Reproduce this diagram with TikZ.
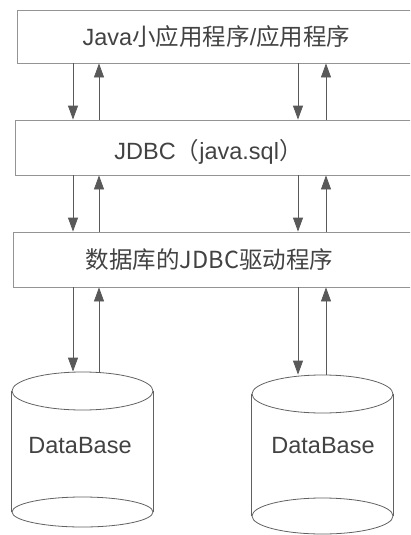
\documentclass[tikz,border=0pt]{standalone}
\usepackage{fontspec}
\setmainfont{Liberation Sans}
\newfontfamily\cjk{Noto Sans CJK SC}
\usetikzlibrary{arrows.meta,shapes.geometric}

\begin{document}
\begin{tikzpicture}[x=1pt,y=-1pt]
\tikzset{
  every node/.style={font=\fontsize{23.5}{26}\selectfont, text=black!74},
  layer/.style={draw=black!42, line width=0.8pt, inner sep=0pt, minimum height=55pt},
  dbend/.style={ellipse, draw=black!62, line width=0.8pt, inner sep=0pt, minimum width=141pt},
  flow/.style={draw=black!65, line width=0.8pt, -{Triangle[length=14pt,width=10pt]}}
}

\clip (0,0) rectangle (410,535);

\coordinate (LeftDown) at (73,0);
\coordinate (LeftUp) at (99,0);
\coordinate (RightDown) at (298,0);
\coordinate (RightUp) at (326,0);

\node[layer, minimum width=397pt, minimum height=53pt] (App) at (215.5,36.5) {};
\node[layer, minimum width=399pt] (Jdbc) at (214.5,147.5) {};
\node[layer, minimum width=401pt] (Driver) at (213.5,259.5) {};
\node (AppText) at ([xshift=1pt]App.center) {Java{\cjk 小应用程序}/{\cjk 应用程序}};
\node (JdbcText) at ([xshift=-6pt,yshift=-4pt]Jdbc.center) {JDBC{\cjk （}java.sql{\cjk ）}};
\node (DriverText) at ([xshift=-4pt]Driver.center) {{\cjk 数据库的JDBC驱动程序}};

\node[dbend, minimum height=38pt] (LeftTop) at (82.5,391) {};
\node[dbend, minimum height=30pt] (LeftBottom) at (82.5,512) {};
\draw[black!62, line width=0.8pt] (LeftTop.west) -- (LeftBottom.west);
\draw[black!62, line width=0.8pt] (LeftTop.east) -- (LeftBottom.east);
\node (LeftName) at (80,446) {DataBase};

\node[dbend, minimum height=38pt] (RightTop) at (322.5,394) {};
\node[dbend, minimum height=36pt] (RightBottom) at (322.5,516) {};
\draw[black!62, line width=0.8pt] (RightTop.west) -- (RightBottom.west);
\draw[black!62, line width=0.8pt] (RightTop.east) -- (RightBottom.east);
\node (RightName) at (323,446) {DataBase};

\draw[flow] (App.south -| LeftDown) -- (Jdbc.north -| LeftDown);
\draw[flow] (Jdbc.north -| LeftUp) -- (App.south -| LeftUp);
\draw[flow] (App.south -| RightDown) -- (Jdbc.north -| RightDown);
\draw[flow] (Jdbc.north -| RightUp) -- (App.south -| RightUp);

\draw[flow] (Jdbc.south -| LeftDown) -- (Driver.north -| LeftDown);
\draw[flow] (Driver.north -| LeftUp) -- (Jdbc.south -| LeftUp);
\draw[flow] (Jdbc.south -| RightDown) -- (Driver.north -| RightDown);
\draw[flow] (Driver.north -| RightUp) -- (Jdbc.south -| RightUp);

\draw[flow] (Driver.south -| LeftDown) -- (LeftTop.north -| LeftDown);
\draw[flow] (LeftTop.north -| LeftUp) -- (Driver.south -| LeftUp);
\draw[flow] (Driver.south -| RightDown) -- (RightTop.north -| RightDown);
\draw[flow] (RightTop.north -| RightUp) -- (Driver.south -| RightUp);
\end{tikzpicture}
\end{document}
